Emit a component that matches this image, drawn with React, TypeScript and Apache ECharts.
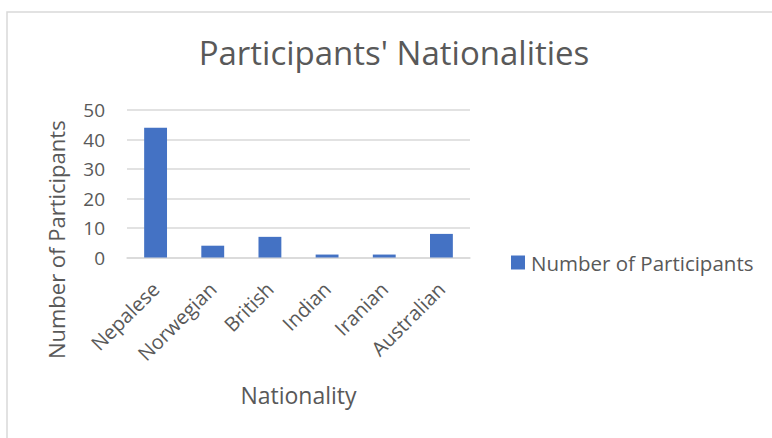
import React, { useEffect, useRef } from "react";
import * as echarts from "echarts";

const categories = ["Nepalese", "Norwegian", "British", "Indian", "Iranian", "Australian"];
const participants = [44, 4, 7, 1, 1, 8];
const seriesName = "Number of Participants";
const chartTitle = "Participants' Nationalities";
const xAxisTitle = "Nationality";
const yAxisTitle = "Number of Participants";

const FONT = "'Open Sans', sans-serif";
const TEXT = "#595959";
const GRID = "#d9d9d9";

export default function App() {
  const ref = useRef<HTMLDivElement>(null);
  useEffect(() => {
    if (!ref.current) return;
    const chart = echarts.init(ref.current, undefined, { renderer: "svg" });
    chart.setOption({
      animation: false,
      backgroundColor: "#ffffff",
      textStyle: { fontFamily: FONT, color: TEXT },
      title: {
        text: chartTitle,
        left: 389,
        top: 31,
        textAlign: "center",
        textStyle: { fontFamily: FONT, fontSize: 33, fontWeight: "normal", color: TEXT },
      },
      legend: {
        left: 511,
        top: 252,
        padding: 0,
        icon: "rect",
        itemWidth: 14,
        itemHeight: 14,
        itemGap: 6,
        textStyle: { fontFamily: FONT, fontSize: 20.5, color: TEXT, padding: [0, 0, 0, 1] },
        data: [seriesName],
      },
      grid: { left: 127, right: 302, top: 110, bottom: 180.5, containLabel: false },
      xAxis: {
        type: "category",
        data: categories,
        name: xAxisTitle,
        nameLocation: "middle",
        nameGap: 126,
        nameTextStyle: { fontFamily: FONT, fontSize: 23, color: TEXT },
        axisLine: { lineStyle: { color: GRID, width: 1.5 } },
        axisTick: { show: false },
        axisLabel: { rotate: 45, margin: 28, fontFamily: FONT, fontSize: 20, color: TEXT, interval: 0 },
      },
      yAxis: {
        type: "value",
        min: 0,
        max: 50,
        interval: 10,
        name: yAxisTitle,
        nameLocation: "middle",
        nameGap: 60,
        nameTextStyle: { fontFamily: FONT, fontSize: 22, color: TEXT, padding: [0, 112, 0, 0] },
        axisLine: { show: false },
        axisTick: { show: false },
        axisLabel: { margin: 22, fontFamily: FONT, fontSize: 19, color: TEXT },
        splitLine: { lineStyle: { color: GRID, width: 1.5 } },
      },
      series: [
        {
          name: seriesName,
          type: "bar",
          data: participants,
          barWidth: "40%",
          itemStyle: { color: "#4472C4" },
        },
      ],
      graphic: [
        {
          type: "rect",
          shape: { x: 7, y: 12, width: 900, height: 600 },
          style: { fill: "none", stroke: GRID, lineWidth: 1.5 },
          silent: true,
        },
      ],
    });
    return () => chart.dispose();
  }, []);
  return (
    <div
      ref={ref}
      style={{ position: "fixed", left: 0, top: 0, width: 772, height: 438 }}
    />
  );
}
